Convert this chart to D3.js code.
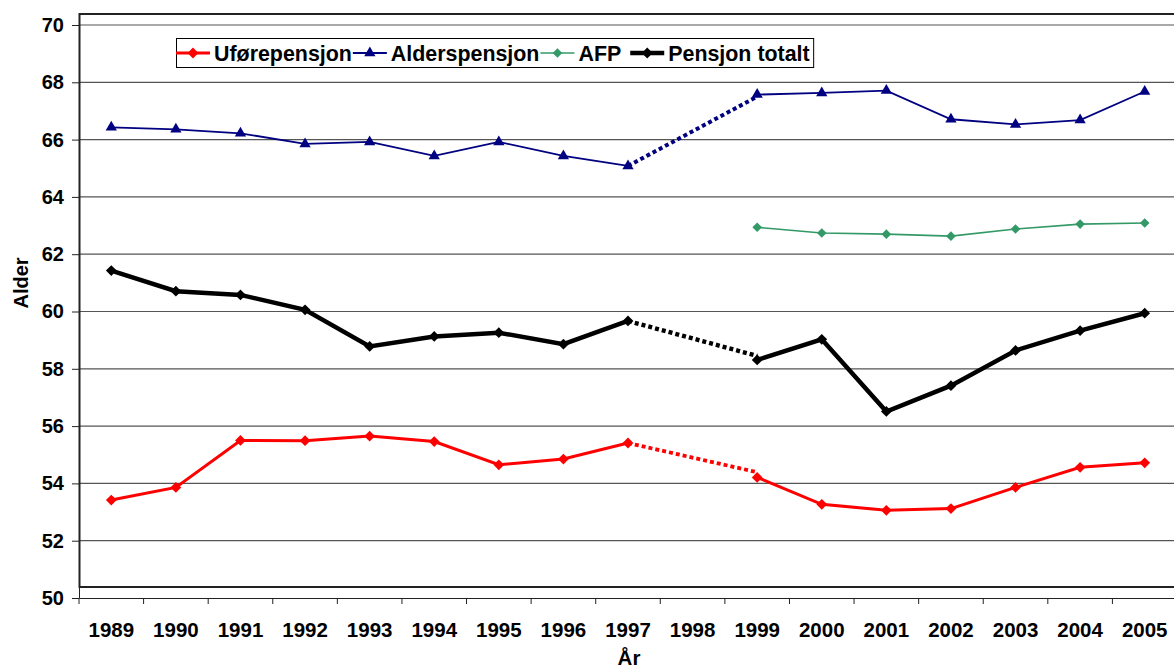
<!DOCTYPE html>
<html>
<head>
<meta charset="utf-8">
<script src="https://cdn.jsdelivr.net/npm/d3@7"></script>
<style>
  body { margin: 0; background: #fff; }
  svg { display: block; font-family: "Liberation Sans", Arial, sans-serif; font-weight: bold; }
</style>
</head>
<body>
<svg width="1174" height="670"></svg>
<script>
// Chart data (1998 is missing in every series)
const years = ["1989","1990","1991","1992","1993","1994","1995","1996","1997","1998","1999","2000","2001","2002","2003","2004","2005"];
const uforepensjon = [53.42, 53.86, 55.50, 55.49, 55.65, 55.46, 54.65, 54.85, 55.41, null, 54.21, 53.27, 53.06, 53.12, 53.86, 54.56, 54.72];
const alderspensjon = [66.43, 66.36, 66.22, 65.85, 65.92, 65.43, 65.92, 65.43, 65.08, null, 67.57, 67.63, 67.71, 66.71, 66.53, 66.68, 67.68];
const afp = [null, null, null, null, null, null, null, null, null, null, 62.94, 62.74, 62.70, 62.63, 62.88, 63.05, 63.09];
const pensjonTotalt = [61.43, 60.71, 60.58, 60.06, 58.78, 59.13, 59.26, 58.86, 59.67, null, 58.31, 59.03, 56.51, 57.41, 58.64, 59.33, 59.94];
// dotted bridge over the 1998 gap: [1997, 1999]
const bridgeYears = ["1997", "1999"];
const uforeBridge = [55.41, 54.39];
const alderBridge = [65.08, 67.50];
const totalBridge = [59.67, 58.45];
const yTicks = [50, 52, 54, 56, 58, 60, 62, 64, 66, 68, 70];

const series = [
  { name: "Uførepensjon", values: uforepensjon, bridge: uforeBridge, color: "#ff0000", width: 3, dotW: 3.8, marker: "diamond", msize: 58 },
  { name: "Alderspensjon", values: alderspensjon, bridge: alderBridge, color: "#000080", width: 1.8, dotW: 4, marker: "triangle", msize: 55 },
  { name: "AFP", values: afp, bridge: null, color: "#339966", width: 1.6, dotW: 0, marker: "diamond", msize: 46 },
  { name: "Pensjon totalt", values: pensjonTotalt, bridge: totalBridge, color: "#000000", width: 4.5, dotW: 4.4, marker: "diamond", msize: 58 }
];

const svg = d3.select("svg");
const plotLeft = 79, plotRight = 1177, plotTop = 25, plotBottom = 598;

const x = d3.scaleBand().domain(years).range([plotLeft, plotRight]).padding(0);
const y = d3.scaleLinear().domain([50, 70]).range([plotBottom, plotTop]);
const cx = (yr) => x(yr) + x.bandwidth() / 2;

// gridlines
svg.append("g")
  .selectAll("line")
  .data(yTicks.filter((t) => t > 50))
  .enter()
  .append("line")
  .attr("x1", plotLeft).attr("x2", plotRight)
  .attr("y1", (d) => y(d)).attr("y2", (d) => y(d))
  .attr("stroke", "#555")
  .attr("stroke-width", 1.2);

// plot frame (as in the original Excel chart)
svg.append("rect")
  .attr("x", plotLeft + 0.5).attr("y", 14)
  .attr("width", 1200).attr("height", 573)
  .attr("fill", "none")
  .attr("stroke", "#222")
  .attr("stroke-width", 2);

// y axis
const yAxis = svg.append("g")
  .attr("transform", `translate(${plotLeft},0)`)
  .call(d3.axisLeft(y).tickValues(yTicks).tickSize(7).tickSizeOuter(0).tickPadding(8));
yAxis.select(".domain").attr("stroke", "#222");
yAxis.selectAll(".tick line").attr("stroke", "#222");
yAxis.selectAll("text").attr("font-size", 20).attr("font-weight", "bold").attr("fill", "#000")
  .attr("font-family", "Liberation Sans, Arial, sans-serif");

// x axis
const xAxis = svg.append("g")
  .attr("transform", `translate(0,${plotBottom})`)
  .call(d3.axisBottom(x).tickSize(0).tickSizeOuter(0));
xAxis.select(".domain").attr("stroke", "#222");
xAxis.selectAll("text")
  .attr("y", 39).attr("dy", 0)
  .attr("font-size", 20.5).attr("font-weight", "bold").attr("fill", "#000")
  .attr("font-family", "Liberation Sans, Arial, sans-serif");
// category boundary ticks
xAxis.selectAll(".bound")
  .data(years.map((c) => x(c)).concat([plotRight]))
  .enter()
  .append("line")
  .attr("x1", (d) => d).attr("x2", (d) => d)
  .attr("y1", 0).attr("y2", 6)
  .attr("stroke", "#222");

// axis titles
svg.append("text")
  .attr("transform", "translate(28,283) rotate(-90)")
  .attr("text-anchor", "middle")
  .attr("font-size", 20)
  .text("Alder");
svg.append("text")
  .attr("x", 629).attr("y", 665)
  .attr("text-anchor", "middle")
  .attr("font-size", 20.5)
  .text("År");

function markerPath(type, size) {
  if (type === "triangle") return d3.symbol(d3.symbolTriangle, size)();
  return d3.symbol(d3.symbolSquare, size)();
}
function markerTransform(type, px, py) {
  return type === "triangle" ? `translate(${px},${py})` : `translate(${px},${py}) rotate(45)`;
}

const line = d3.line()
  .defined((d) => d.v !== null)
  .x((d) => cx(d.yr))
  .y((d) => y(d.v));

// series
series.forEach((s) => {
  const pts = years.map((yr, i) => ({ yr: yr, v: s.values[i] }));
  const g = svg.append("g");
  if (s.bridge) {
    g.append("path")
      .datum(bridgeYears.map((yr, i) => ({ yr: yr, v: s.bridge[i] })))
      .attr("d", line)
      .attr("fill", "none")
      .attr("stroke", s.color)
      .attr("stroke-width", s.dotW)
      .attr("stroke-dasharray", "4,3");
  }
  g.append("path")
    .datum(pts)
    .attr("d", line)
    .attr("fill", "none")
    .attr("stroke", s.color)
    .attr("stroke-width", s.width)
    .attr("stroke-linejoin", "miter");
  g.selectAll(".m")
    .data(pts.filter((d) => d.v !== null))
    .enter()
    .append("path")
    .attr("d", markerPath(s.marker, s.msize))
    .attr("transform", (d) => markerTransform(s.marker, cx(d.yr), y(d.v)))
    .attr("fill", s.color);
});

// legend
const legend = svg.append("g");
const legendBox = legend.append("rect")
  .attr("x", 176.5).attr("y", 38.5)
  .attr("height", 29)
  .attr("fill", "#fff")
  .attr("stroke", "#000")
  .attr("stroke-width", 1);
let lx = 176;
series.forEach((s, i) => {
  if (i === 3) lx += 8;
  const ly = 53;
  legend.append("line")
    .attr("x1", lx).attr("x2", lx + 34)
    .attr("y1", ly).attr("y2", ly)
    .attr("stroke", s.color)
    .attr("stroke-width", s.width);
  legend.append("path")
    .attr("d", markerPath(s.marker, s.msize))
    .attr("transform", markerTransform(s.marker, lx + 17, ly))
    .attr("fill", s.color);
  const t = legend.append("text")
    .attr("x", lx + 38).attr("y", ly + 7.8)
    .attr("font-size", 21.4)
    .text(s.name);
  lx = lx + 38 + t.node().getComputedTextLength() + 1;
});
legendBox.attr("width", lx + 3 - 176.5);
</script>
</body>
</html>
